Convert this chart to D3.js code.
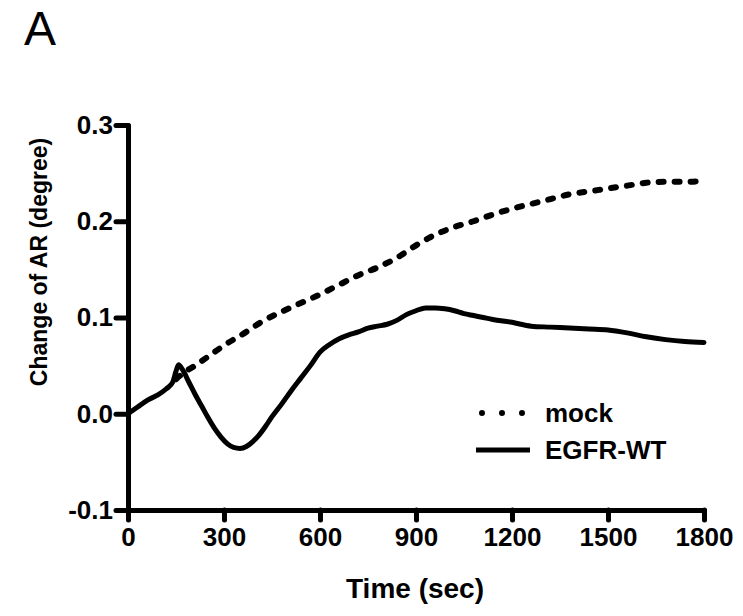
<!DOCTYPE html>
<html>
<head>
<meta charset="utf-8">
<script src="https://cdn.jsdelivr.net/npm/d3@7"></script>
<style>
  body { margin: 0; background: #fff; }
  text { font-family: "Liberation Sans", Arial, sans-serif; }
</style>
</head>
<body>
<div class="chart"></div>
<script>
// data (time in sec, change of AR in degree)
var mockTime = [0, 30, 60, 90, 120, 150, 180, 210, 240, 270, 300, 360, 420, 480, 540, 600, 660, 720, 780, 840, 900, 960, 1020, 1080, 1140, 1200, 1260, 1320, 1380, 1440, 1500, 1560, 1620, 1680, 1740, 1800];
var mockValues = [0.000, 0.007, 0.014, 0.019, 0.026, 0.036, 0.044, 0.050, 0.057, 0.064, 0.071, 0.083, 0.096, 0.106, 0.115, 0.124, 0.134, 0.144, 0.152, 0.162, 0.175, 0.186, 0.194, 0.200, 0.207, 0.213, 0.218, 0.223, 0.228, 0.231, 0.234, 0.237, 0.240, 0.241, 0.241, 0.242];

var egfrTime = [0, 30, 60, 90, 120, 140, 150, 158, 170, 190, 210, 230, 250, 270, 290, 310, 330, 350, 370, 390, 410, 430, 450, 480, 510, 540, 570, 600, 630, 660, 690, 720, 750, 780, 810, 840, 870, 900, 930, 960, 990, 1020, 1050, 1080, 1110, 1140, 1200, 1260, 1320, 1380, 1440, 1500, 1560, 1620, 1680, 1740, 1800];
var egfrValues = [0.000, 0.007, 0.014, 0.019, 0.026, 0.033, 0.044, 0.051, 0.046, 0.033, 0.020, 0.008, -0.004, -0.015, -0.024, -0.031, -0.035, -0.036, -0.034, -0.029, -0.022, -0.013, -0.003, 0.010, 0.024, 0.037, 0.050, 0.064, 0.072, 0.078, 0.082, 0.085, 0.089, 0.091, 0.093, 0.097, 0.103, 0.107, 0.110, 0.110, 0.109, 0.107, 0.104, 0.102, 0.100, 0.098, 0.095, 0.091, 0.090, 0.089, 0.088, 0.087, 0.084, 0.080, 0.077, 0.075, 0.074];

var xTicks = [0, 300, 600, 900, 1200, 1500, 1800];
var yTicks = [-0.1, 0.0, 0.1, 0.2, 0.3];
var seriesNames = ["mock", "EGFR-WT"];

var svgWidth = 743;
var svgHeight = 616;
var margin = { top: 125, right: 39, bottom: 106, left: 128 };
var chartWidth = svgWidth - margin.left - margin.right;
var chartHeight = svgHeight - margin.top - margin.bottom;

var svg = d3.select(".chart")
  .append("svg")
  .attr("width", svgWidth)
  .attr("height", svgHeight);

var chartGroup = svg.append("g")
  .attr("transform", `translate(${margin.left}, ${margin.top})`);

var xScale = d3.scaleLinear().domain([0, 1800]).range([0, chartWidth]);
var yScale = d3.scaleLinear().domain([-0.1, 0.3]).range([chartHeight, 0]);

// axes (hyphen instead of the unicode minus)
var fmtY = d3.format(".1f");
var bottomAxis = d3.axisBottom(xScale).tickValues(xTicks).tickSize(10).tickSizeOuter(0).tickPadding(8).tickFormat(d3.format("d"));
var leftAxis = d3.axisLeft(yScale).tickValues(yTicks).tickSize(12).tickSizeOuter(0).tickPadding(3)
  .tickFormat(d => fmtY(d).replace("\u2212", "-"));

var xAxisG = chartGroup.append("g")
  .attr("transform", `translate(0, ${chartHeight})`)
  .call(bottomAxis);

var yAxisG = chartGroup.append("g")
  .call(leftAxis);

[xAxisG, yAxisG].forEach(function(g) {
  g.selectAll("path.domain").attr("stroke", "#000").attr("stroke-width", 5).attr("stroke-linecap", "round");
  g.selectAll(".tick line").attr("stroke", "#000").attr("stroke-width", 5).attr("stroke-linecap", "round");
  g.selectAll(".tick text")
    .attr("fill", "#000")
    .style("font-family", "'Liberation Sans', Arial, sans-serif")
    .style("font-weight", "bold")
    .style("font-size", "26px");
});

// lines
var mockData = mockTime.map(function(t, i) { return { t: t, v: mockValues[i] }; });
var egfrData = egfrTime.map(function(t, i) { return { t: t, v: egfrValues[i] }; });

var line = d3.line()
  .x(d => xScale(d.t))
  .y(d => yScale(d.v))
  .curve(d3.curveMonotoneX);

chartGroup.append("path")
  .datum(egfrData)
  .attr("d", line)
  .attr("fill", "none")
  .attr("stroke", "#000")
  .attr("stroke-width", 5)
  .attr("stroke-linejoin", "round")
  .attr("stroke-linecap", "round");

chartGroup.append("path")
  .datum(mockData.filter(d => d.t >= 150))
  .attr("d", line)
  .attr("fill", "none")
  .attr("stroke", "#000")
  .attr("stroke-width", 6)
  .attr("stroke-dasharray", "5,11")
  .attr("stroke-linecap", "round");

// legend
var legend = svg.append("g");
var legendY = [413, 450];
legend.append("line")
  .attr("x1", 482).attr("x2", 530)
  .attr("y1", legendY[0]).attr("y2", legendY[0])
  .attr("stroke", "#000").attr("stroke-width", 6)
  .attr("stroke-dasharray", "0,20").attr("stroke-linecap", "round");
legend.append("line")
  .attr("x1", 476).attr("x2", 530)
  .attr("y1", legendY[1]).attr("y2", legendY[1])
  .attr("stroke", "#000").attr("stroke-width", 5);

legend.selectAll("text.leg")
  .data(seriesNames)
  .enter()
  .append("text")
  .attr("class", "leg")
  .attr("x", 545)
  .attr("y", (d, i) => legendY[i] + 9)
  .attr("font-weight", "bold")
  .attr("font-size", "26px")
  .text(d => d);

// axis titles
svg.append("text")
  .attr("transform", "translate(47, 262) rotate(-90)")
  .attr("text-anchor", "middle")
  .attr("font-weight", "bold")
  .attr("font-size", "23px")
  .text("Change of AR (degree)");

svg.append("text")
  .attr("x", 415)
  .attr("y", 598)
  .attr("text-anchor", "middle")
  .attr("font-weight", "bold")
  .attr("font-size", "28px")
  .text("Time (sec)");

// panel letter
svg.append("text")
  .attr("x", 24)
  .attr("y", 45)
  .attr("font-size", "48px")
  .text("A");
</script>
</body>
</html>
